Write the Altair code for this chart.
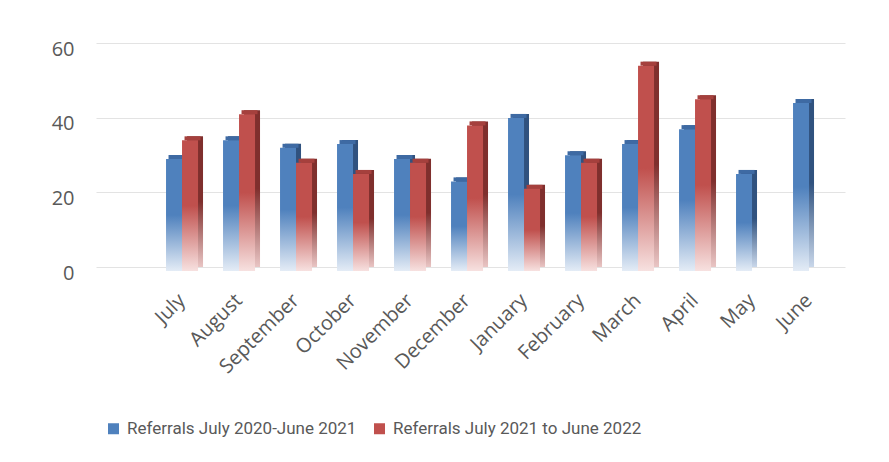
import altair as alt
import pandas as pd

months = ["July", "August", "September", "October", "November", "December",
          "January", "February", "March", "April", "May", "June"]
series_names = ["Referrals July 2020-June 2021", "Referrals July 2021 to June 2022"]
referrals_2020_21 = [30, 35, 33, 34, 30, 24, 41, 31, 34, 38, 26, 45]
referrals_2021_22 = [35, 42, 29, 26, 29, 39, 22, 29, 55, 46, None, None]

rows = []
for m, a, b in zip(months, referrals_2020_21, referrals_2021_22):
    rows.append({"month": m, "series": series_names[0], "value": a})
    if b is not None:
        rows.append({"month": m, "series": series_names[1], "value": b})
df = pd.DataFrame(rows)

FONT = "Open Sans"
TXT = "#595959"


def grad(top, bottom, mid=0.5):
    return alt.Gradient(
        gradient="linear", x1=0, x2=0, y1=0, y2=1,
        stops=[alt.GradientStop(color=top, offset=0),
               alt.GradientStop(color=top, offset=mid),
               alt.GradientStop(color=bottom, offset=1)])


styles = [
    # series, centre offset, front gradient, side gradient, cap colour
    (series_names[0], -8, grad("#4f81bd", "#e4ecf6"), grad("#30527f", "#c9d7ea"), "#3e6aa3"),
    (series_names[1], 8, grad("#c0504d", "#f7e1e0"), grad("#7f2f2d", "#e9c5c4"), "#a5403d"),
]

x_enc = alt.X("month:N", sort=months, title=None,
              scale=alt.Scale(paddingInner=0, paddingOuter=0.5702, align=0.885),
              axis=alt.Axis(labelAngle=-45, labelAlign="right", labelBaseline="middle",
                            labelPadding=30, ticks=False, domain=False, grid=False,
                            labelFont=FONT, labelFontSize=20, labelColor=TXT))
y_enc = alt.Y("value:Q", title=None,
              scale=alt.Scale(domain=[0, 60], nice=False),
              axis=alt.Axis(values=[0, 20, 40, 60], ticks=False, domain=False, grid=True,
                            gridColor="#e3e3e3", gridWidth=1.2, labelPadding=22,
                            labelOffset=6, labelFont=FONT, labelFontSize=20,
                            labelColor=TXT))

base = alt.Chart(df)
layers = []
for name, c, front_g, side_g, cap_c in styles:
    sub = base.transform_filter(alt.datum.series == name)
    side = sub.mark_bar(width=16, xOffset=c + 5, y2Offset=-4,
                        color=side_g).encode(x=x_enc, y=y_enc)
    cap = sub.mark_bar(width=16, xOffset=c + 2.5, y2Offset=4,
                       color=cap_c).encode(x=x_enc, y=y_enc, y2="value:Q")
    front = sub.mark_bar(width=16, xOffset=c, yOffset=4,
                         color=front_g).encode(x=x_enc, y=y_enc)
    layers += [side, cap, front]

legend_layer = base.mark_point(shape="square", filled=True, opacity=0).encode(
    x=x_enc, y=y_enc,
    color=alt.Color("series:N", sort=series_names,
                    scale=alt.Scale(domain=series_names, range=["#4f81bd", "#c0504d"]),
                    legend=alt.Legend(orient="none", legendX=9, legendY=377,
                                      direction="horizontal", title=None,
                                      symbolType="square", symbolSize=121,
                                      symbolOpacity=1, symbolStrokeWidth=0,
                                      labelFont="Roboto",
                                      labelFontSize=17, labelColor=TXT,
                                      labelOffset=5, columnPadding=14,
                                      labelLimit=400)))
layers.append(legend_layer)

chart = alt.layer(*layers).properties(
    width=749, height=224,
    background="white",
    autosize=alt.AutoSizeParams(type="none"),
    padding={"left": 88, "top": 35, "right": 36, "bottom": 187},
).configure_view(stroke=None, strokeWidth=0)

chart.save("out.html", embed_options={"renderer": "svg", "actions": False})
